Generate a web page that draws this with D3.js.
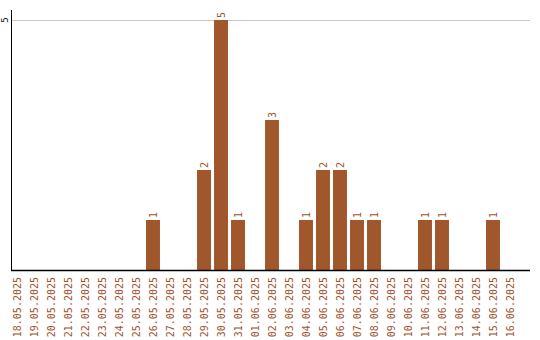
<!DOCTYPE html>
<html>
<head>
<meta charset="utf-8">
<script src="https://cdn.jsdelivr.net/npm/d3@7"></script>
<style>
  body { margin: 0; background: #fff; }
  text { font-family: "DejaVu Sans Mono", monospace; }
</style>
</head>
<body>
<div id="chart"></div>
<script>
// data
var days = ["18.05.2025","19.05.2025","20.05.2025","21.05.2025","22.05.2025","23.05.2025",
  "24.05.2025","25.05.2025","26.05.2025","27.05.2025","28.05.2025","29.05.2025","30.05.2025",
  "31.05.2025","01.06.2025","02.06.2025","03.06.2025","04.06.2025","05.06.2025","06.06.2025",
  "07.06.2025","08.06.2025","09.06.2025","10.06.2025","11.06.2025","12.06.2025","13.06.2025",
  "14.06.2025","15.06.2025","16.06.2025"];
var counts = [0,0,0,0,0,0,0,0,1,0,0,2,5,1,0,3,0,1,2,2,1,1,0,0,1,1,0,0,1,0];
var yTicks = [5];

var width = 540, height = 340;
var barColor = "#A0572B";

var svg = d3.select("#chart")
  .append("svg")
    .attr("width", width)
    .attr("height", height);

var x = d3.scaleBand()
    .domain(days)
    .range([8.5, 518.5])
    .paddingInner(0.18)
    .paddingOuter(0.09);

var y = d3.scaleLinear()
    .domain([0, 5])
    .range([270, 20]);

// grid line
svg.selectAll("line.grid").data(yTicks).enter()
  .append("line").attr("class", "grid")
    .attr("x1", 11).attr("x2", 530)
    .attr("y1", function(d) { return y(d) + 0.5; })
    .attr("y2", function(d) { return y(d) + 0.5; })
    .style("stroke", "#c8c8c8");

// y tick labels
svg.selectAll("text.ytick").data(yTicks).enter()
  .append("text").attr("class", "ytick")
    .attr("transform", function(d) { return "translate(8," + y(d) + ")rotate(-90)"; })
    .attr("text-anchor", "middle")
    .style("font-size", "9px")
    .style("fill", "#000")
    .text(function(d) { return d; });

// bars
svg.selectAll("rect.bar").data(days).enter()
  .append("rect").attr("class", "bar")
    .attr("x", function(d) { return x(d); })
    .attr("width", x.bandwidth())
    .attr("y", function(d, i) { return y(counts[i]); })
    .attr("height", function(d, i) { return y(0) - y(counts[i]); })
    .style("fill", barColor);

// value labels
svg.selectAll("text.val").data(days.filter(function(d, i) { return counts[i] > 0; })).enter()
  .append("text").attr("class", "val")
    .attr("transform", function(d) {
      var v = counts[days.indexOf(d)];
      return "translate(" + (x(d) + x.bandwidth() / 2 + 3.5) + "," + (y(v) - 2) + ")rotate(-90)";
    })
    .attr("text-anchor", "start")
    .style("font-size", "10px")
    .style("fill", "#A0522D")
    .text(function(d) { return counts[days.indexOf(d)]; });

// x axis labels
var xAxis = svg.append("g")
    .attr("transform", "translate(0,270)")
    .call(d3.axisBottom(x).tickSize(0));
xAxis.select(".domain").remove();
xAxis.selectAll("text")
    .attr("transform", "translate(3.5,7)rotate(-90)")
    .attr("x", 0).attr("y", 0).attr("dy", 0)
    .style("text-anchor", "end")
    .style("font-size", "10px")
    .style("font-family", "DejaVu Sans Mono, monospace")
    .style("fill", "#A0522D");

// axis lines
svg.append("line")
    .attr("x1", 11.5).attr("x2", 11.5).attr("y1", 10).attr("y2", 270)
    .style("stroke", "#000");
svg.append("line")
    .attr("x1", 11).attr("x2", 530).attr("y1", 270.5).attr("y2", 270.5)
    .style("stroke", "#000").style("stroke-width", 1.5);
</script>
</body>
</html>
